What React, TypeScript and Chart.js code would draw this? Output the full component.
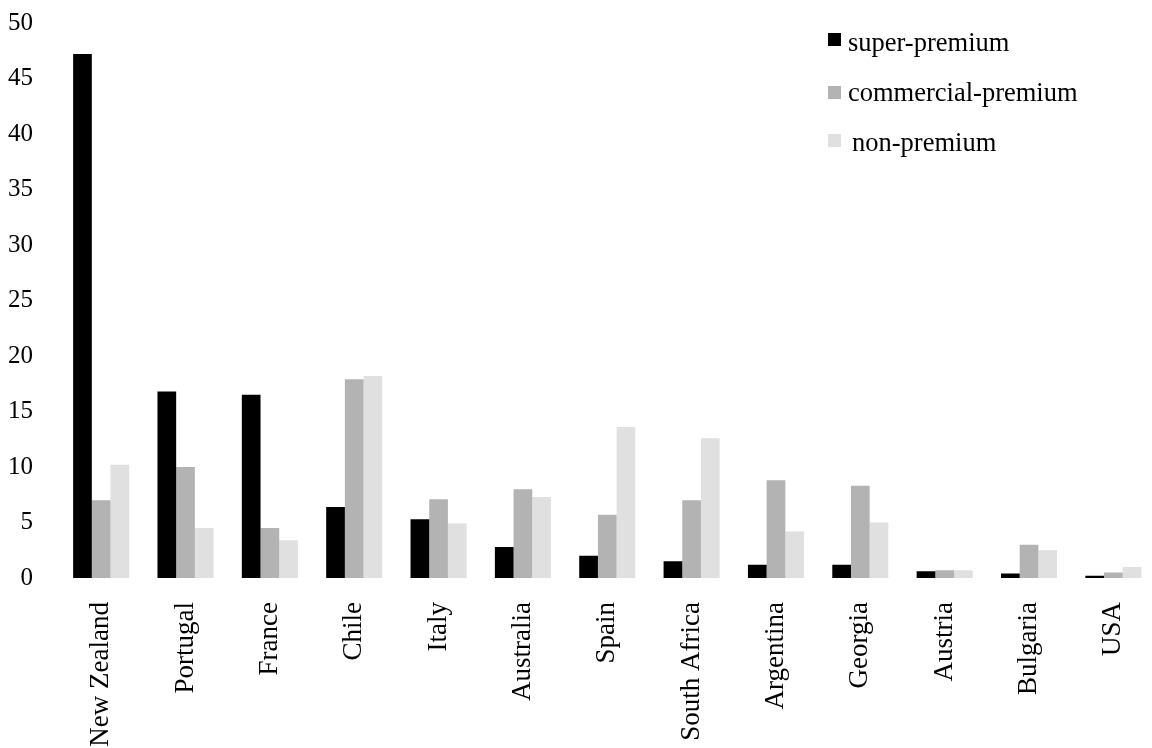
import React, { useEffect, useRef } from "react";
import { Chart, registerables } from "chart.js";

Chart.register(...registerables);

const categories = [
  "New Zealand",
  "Portugal",
  "France",
  "Chile",
  "Italy",
  "Australia",
  "Spain",
  "South Africa",
  "Argentina",
  "Georgia",
  "Austria",
  "Bulgaria",
  "USA",
];

const seriesNames = ["super-premium", "commercial-premium", "non-premium"];

const superPremium = [47.2, 16.8, 16.5, 6.4, 5.3, 2.8, 2.0, 1.5, 1.2, 1.2, 0.6, 0.4, 0.2];
const commercialPremium = [7.0, 10.0, 4.5, 17.9, 7.1, 8.0, 5.7, 7.0, 8.8, 8.3, 0.7, 3.0, 0.5];
const nonPremium = [10.2, 4.5, 3.4, 18.2, 4.9, 7.3, 13.6, 12.6, 4.2, 5.0, 0.7, 2.5, 1.0];

const yMin = 0;
const yMax = 50;
const yStep = 5;

const colors = ["#000000", "#b3b3b3", "#e0e0e0"];

const FONT = "'Liberation Serif', 'Times New Roman', serif";

// canvas is shifted up by this many pixels inside the page
const SHIFT = 18;

const legendPlugin = {
  id: "customLegend",
  afterDraw(chart: any) {
    const ctx = chart.ctx;
    const items = chart.data.datasets;
    const boxX = 828;
    const boxSize = 13;
    const boxYs = [33, 86, 134];
    const textXs = [848, 848, 852];
    const baselines = [51, 101, 151];
    ctx.save();
    ctx.font = `26.5px ${FONT}`;
    ctx.textAlign = "left";
    ctx.textBaseline = "alphabetic";
    items.forEach((ds: any, i: number) => {
      ctx.fillStyle = ds.backgroundColor;
      ctx.fillRect(boxX, boxYs[i] + SHIFT, boxSize, boxSize);
      ctx.fillStyle = "#000000";
      ctx.fillText(ds.label, textXs[i], baselines[i] + SHIFT);
    });
    ctx.restore();
  },
};

export default function App() {
  const canvasRef = useRef<HTMLCanvasElement | null>(null);

  useEffect(() => {
    document.body.style.margin = "0";
    const canvas = canvasRef.current;
    if (!canvas) return;
    const chart = new Chart(canvas, {
      type: "bar",
      data: {
        labels: categories,
        datasets: [superPremium, commercialPremium, nonPremium].map((d, i) => ({
          label: seriesNames[i],
          data: d,
          backgroundColor: colors[i],
          borderWidth: 0,
          categoryPercentage: 0.665,
          barPercentage: 1.0,
        })),
      },
      options: {
        responsive: false,
        animation: false,
        devicePixelRatio: 1,
        layout: { padding: { top: 22, right: 6, left: 0, bottom: 0 } },
        plugins: {
          legend: { display: false },
          tooltip: { enabled: false },
        },
        scales: {
          x: {
            grid: { display: false, drawTicks: false },
            border: { display: false },
            ticks: {
              autoSkip: false,
              minRotation: 90,
              maxRotation: 90,
              padding: 24,
              color: "#000000",
              font: { family: FONT, size: 27 },
            },
            afterFit: (s: any) => {
              s.height = 170;
            },
          },
          y: {
            min: yMin,
            max: yMax,
            grid: { display: false, drawTicks: false },
            border: { display: false },
            ticks: {
              stepSize: yStep,
              padding: 26,
              color: "#000000",
              font: { family: FONT, size: 25 },
            },
            afterFit: (s: any) => {
              s.width = 59;
            },
          },
        },
      },
      plugins: [legendPlugin],
    });
    return () => chart.destroy();
  }, []);

  return (
    <div
      style={{
        position: "absolute",
        left: 0,
        top: 0,
        width: 1152,
        height: 748,
        overflow: "hidden",
        background: "#ffffff",
      }}
    >
      <canvas
        ref={canvasRef}
        width={1170}
        height={748 + SHIFT}
        style={{
          position: "absolute",
          left: 0,
          top: -SHIFT,
          width: 1170,
          height: 748 + SHIFT,
          display: "block",
        }}
      />
    </div>
  );
}
